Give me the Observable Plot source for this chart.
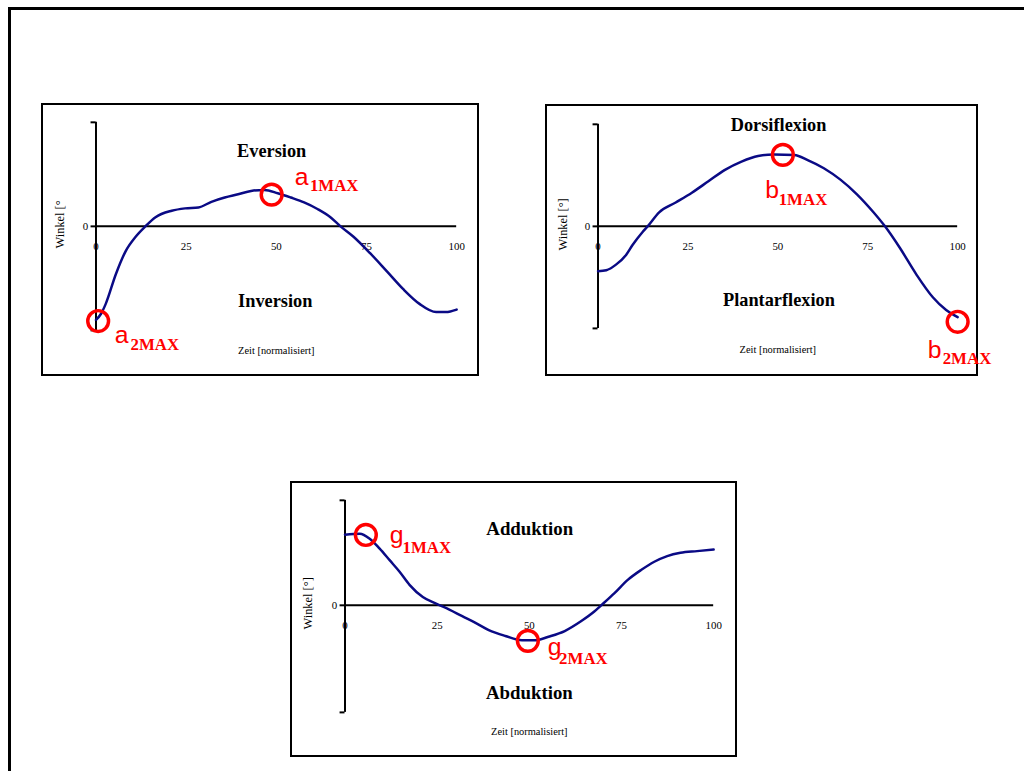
<!DOCTYPE html>
<html>
<head>
<meta charset="utf-8">
<script src="https://cdn.jsdelivr.net/npm/d3@7"></script>
<script src="https://cdn.jsdelivr.net/npm/@observablehq/plot@0.6"></script>
<style>
html, body { margin: 0; padding: 0; background: #fff; }
#page { position: relative; width: 1024px; height: 771px; overflow: hidden; background: #fff; }
.outer { position: absolute; left: 8px; top: 7px; width: 1100px; height: 900px; border-top: 3px solid #000; border-left: 3px solid #000; }
.panel { position: absolute; box-sizing: border-box; border: 2px solid #000; }
.panel svg { position: absolute; left: -2px; top: -2px; }
</style>
</head>
<body>
<div id="page"><div class="outer"></div></div>
<script>
// ---------- data ----------
const xTicks = [0, 25, 50, 75, 100];

// Eversion / Inversion
const eversionTime  = [0, 1.4, 2.7, 5.5, 8.2, 11, 13.7, 16.5, 21, 24.7, 28.4, 32, 35.7, 39.4, 43, 46.7, 50.4, 54, 57.7, 61.4, 65, 67.8, 71.4, 76, 80.6, 85.2, 89.7, 94.3, 97, 100];
const eversionAngle = [-9.0, -8.4, -7.45, -4.6, -2.4, -1.0, 0, 0.88, 1.5, 1.73, 1.82, 2.36, 2.77, 3.08, 3.4, 3.5, 3.18, 2.77, 2.3, 1.67, 0.88, 0, -1.0, -2.58, -4.3, -6.04, -7.45, -8.24, -8.24, -8.0];
const eversionMaxTime  = [48.7, 0.6];
const eversionMaxAngle = [3.05, -9.1];
const eversionMaxLetter = ["a", "a"];
const eversionMaxSub = ["1MAX", "2MAX"];

// Dorsiflexion / Plantarflexion
const dorsiTime  = [0, 2.3, 5, 7.8, 9.6, 12.4, 13.8, 17, 21.6, 26.1, 30.7, 35.3, 39.9, 44.5, 49, 54.6, 58.3, 62.8, 67.4, 72, 76.6, 79.8, 84, 88.5, 93.1, 96.8, 100];
const dorsiAngle = [-4.4, -4.3, -3.75, -2.8, -1.83, -0.55, 0, 1.38, 2.34, 3.3, 4.42, 5.54, 6.35, 6.9, 7.05, 7.0, 6.5, 5.7, 4.58, 3.14, 1.38, 0, -2.15, -4.7, -6.95, -8.2, -8.9];
const dorsiMaxTime  = [51.4, 100];
const dorsiMaxAngle = [7.0, -9.35];
const dorsiMaxLetter = ["b", "b"];
const dorsiMaxSub = ["1MAX", "2MAX"];

// Adduktion / Abduktion
const adduktTime  = [0, 4, 6.7, 9.4, 12.1, 14.8, 17.5, 21.1, 24.7, 28.3, 31.8, 35.4, 39, 43.5, 48, 51.6, 55.2, 59.6, 64.1, 67.7, 69.5, 73.1, 76.7, 80.3, 83.9, 87.4, 91, 95.5, 100];
const adduktAngle = [6.73, 6.82, 6.35, 5.4, 4.3, 3.2, 1.95, 0.79, 0.16, -0.41, -1.04, -1.67, -2.36, -2.92, -3.33, -3.33, -2.99, -2.45, -1.5, -0.57, 0, 1.16, 2.42, 3.36, 4.15, 4.69, 5.0, 5.16, 5.31];
const adduktMaxTime  = [5.65, 49.6];
const adduktMaxAngle = [6.7, -3.38];
const adduktMaxLetter = ["g", "g"];
const adduktMaxSub = ["1MAX", "2MAX"];

const xLabel = "Zeit [normalisiert]";
const yLabels = ["Winkel [°", "Winkel [°]", "Winkel [°]"];
const directionNames = [["Eversion", "Inversion"], ["Dorsiflexion", "Plantarflexion"], ["Adduktion", "Abduktion"]];

// ---------- layout ----------
const serif = "'Liberation Serif','Times New Roman',Times,serif";
const sans = "'Liberation Sans',Arial,Helvetica,sans-serif";

const panels = [
  { left: 41, top: 103, width: 438, height: 273, mL: 55, mR: 19, mT: 19, mB: 44, yDomain: [-10, 10],
    time: eversionTime, angle: eversionAngle,
    mx: eversionMaxTime, my: eversionMaxAngle, ml: eversionMaxLetter, ms: eversionMaxSub,
    ylabel: yLabels[0], ylabelDx: -36, xlabelDy: 24, dirSize: 18.5,
    dirPos: [[48.7, 7.26], [49.7, -7.18]], names: directionNames[0],
    offsets: [[23.4, -10, 38.6, -3.3], [16.7, 22.3, 32.6, 28.8]] },
  { left: 545, top: 104, width: 433, height: 272, mL: 53, mR: 17, mT: 20, mB: 46, yDomain: [-10, 10],
    time: dorsiTime, angle: dorsiAngle,
    mx: dorsiMaxTime, my: dorsiMaxAngle, ml: dorsiMaxLetter, ms: dorsiMaxSub,
    ylabel: yLabels[1], ylabelDx: -35, xlabelDy: 25, dirSize: 18.5,
    dirPos: [[50.2, 9.92], [50.3, -7.22]], names: directionNames[1],
    offsets: [[-17.7, 43.3, -4.2, 51], [-30.3, 36.7, -15.1, 42.4]] },
  { left: 290, top: 481, width: 447, height: 276, mL: 55, mR: 20, mT: 19, mB: 43, yDomain: [-10.2, 10],
    time: adduktTime, angle: adduktAngle,
    mx: adduktMaxTime, my: adduktMaxAngle, ml: adduktMaxLetter, ms: adduktMaxSub,
    ylabel: yLabels[2], ylabelDx: -37, xlabelDy: 23, dirSize: 19,
    dirPos: [[50.1, 7.27], [50, -8.31]], names: directionNames[2],
    offsets: [[24, 8, 37, 17.7], [20, 14.6, 31.5, 23.6]] }
];

const page = document.getElementById("page");

for (const p of panels) {
  const curve = p.time.map((t, i) => ({t, v: p.angle[i]}));
  const markers = p.mx.map((t, i) => ({t, v: p.my[i], letter: p.ml[i], sub: p.ms[i]}));
  const dirs = p.names.map((name, i) => ({name, x: p.dirPos[i][0], y: p.dirPos[i][1]}));

  const labelMarks = markers.flatMap((m, i) => {
    const o = p.offsets[i];
    return [
      Plot.text([m], {x: "t", y: "v", text: "letter", textAnchor: "start", lineAnchor: "bottom",
        dx: o[0], dy: o[1], fill: "#ff0000", fontSize: 25, fontFamily: sans}),
      Plot.text([m], {x: "t", y: "v", text: "sub", textAnchor: "start", lineAnchor: "bottom",
        dx: o[2], dy: o[3], fill: "#ff0000", fontSize: 17, fontWeight: "bold", fontFamily: serif})
    ];
  });

  const svg = Plot.plot({
    width: p.width,
    height: p.height,
    marginLeft: p.mL, marginRight: p.mR, marginTop: p.mT, marginBottom: p.mB,
    style: {background: "transparent", overflow: "visible", fontFamily: serif, fontSize: "11px", color: "#000"},
    x: {domain: [0, 100], axis: null},
    y: {domain: p.yDomain},
    marks: [
      Plot.ruleY([0], {x1: 0, x2: 100, stroke: "#000", strokeWidth: 2}),
      Plot.ruleX([0], {y1: p.yDomain[0], y2: p.yDomain[1], stroke: "#000", strokeWidth: 2}),
      Plot.axisY({ticks: [p.yDomain[0], 0, p.yDomain[1]], tickSize: 5, tickPadding: 3,
        tickFormat: d => d === 0 ? "0" : "", label: null, strokeWidth: 2, fontSize: 11, fontFamily: serif}),
      Plot.text(xTicks, {x: d => d, y: 0, text: d => String(d), dy: 20, fontSize: 11, fontFamily: serif, fill: "#000"}),
      Plot.text([p.ylabel], {x: 0, y: 0, rotate: -90, dx: p.ylabelDx, dy: -2, fontSize: 12.5, fontFamily: serif}),
      Plot.text([xLabel], {x: 50, frameAnchor: "bottom", dy: p.xlabelDy, fontSize: 10.5, fontFamily: serif}),
      Plot.text(dirs, {x: "x", y: "y", text: "name", fontWeight: "bold", fontSize: p.dirSize, fontFamily: serif}),
      Plot.line(curve, {x: "t", y: "v", stroke: "#0a0a85", strokeWidth: 2.5, curve: "monotone-x"}),
      Plot.dot(markers, {x: "t", y: "v", r: 10.5, stroke: "#ff0000", strokeWidth: 3.5, fill: "none"}),
      ...labelMarks
    ]
  });

  const box = document.createElement("div");
  box.className = "panel";
  box.style.left = p.left + "px";
  box.style.top = p.top + "px";
  box.style.width = p.width + "px";
  box.style.height = p.height + "px";
  box.appendChild(svg);
  page.appendChild(box);
}
</script>
</body>
</html>
